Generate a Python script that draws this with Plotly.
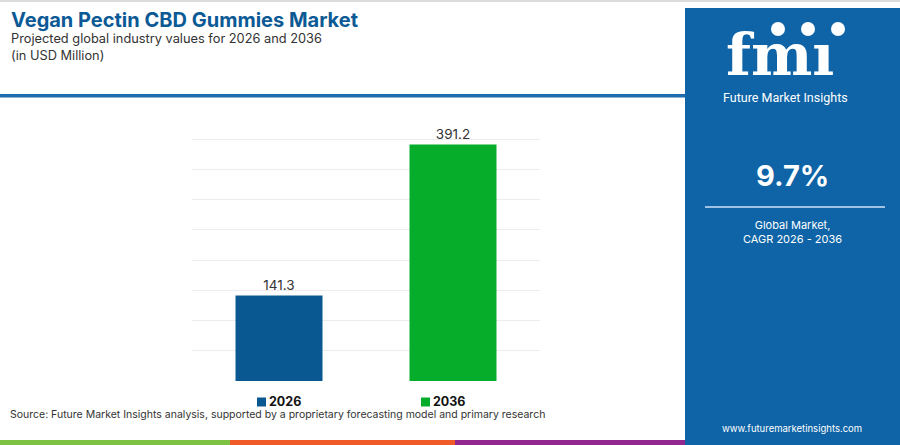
import plotly.graph_objects as go

# chart data
years = ['2026', '2036']
values = [141.3, 391.2]
bar_colors = ['#0a5891', '#06ad2a']
cagr = '9.7%'

title = 'Vegan Pectin CBD Gummies Market'
subtitle = 'Projected global industry values for 2026 and 2036'
unit = '(in USD Million)'
source = 'Source: Future Market Insights analysis, supported by a proprietary forecasting model and primary research'

W, H = 900, 445
# plot area in pixels
L, R, T, B = 192, 540, 109, 381


def px(x):
    return (x - L) / (R - L)


def py(y):
    return (B - y) / (B - T)


fig = go.Figure()
fig.add_trace(go.Bar(
    x=years, y=values, width=0.5,
    marker=dict(color=bar_colors, line=dict(width=0)),
    text=[f'{v:.1f}' for v in values], textposition='outside',
    textfont=dict(family='Inter', size=13.5, color='#333333'),
    cliponaxis=False, showlegend=False,
))

shapes = []
ann = []

# frame lines
shapes.append(dict(type='rect', xref='paper', yref='paper', x0=px(0), x1=px(900), y0=py(0), y1=py(2),
                   fillcolor='#dcdcdc', line=dict(width=0), layer='below'))
shapes.append(dict(type='rect', xref='paper', yref='paper', x0=px(0), x1=px(685), y0=py(94), y1=py(97.5),
                   fillcolor='#1f6cae', line=dict(width=0), layer='below'))
# bottom stripes
for x0, x1, c in [(0, 230, '#7dc242'), (230, 455, '#f05a28'), (455, 685, '#92278f')]:
    shapes.append(dict(type='rect', xref='paper', yref='paper', x0=px(x0), x1=px(x1), y0=py(440), y1=py(445),
                       fillcolor=c, line=dict(width=0), layer='below'))
# right panel
shapes.append(dict(type='rect', xref='paper', yref='paper', x0=px(685), x1=px(900), y0=py(8), y1=py(445),
                   fillcolor='#0e64a6', line=dict(width=0), layer='below'))

# titles
ann.append(dict(text=f'<b>{title}</b>', x=px(9), y=py(20), xanchor='left', yanchor='middle',
                font=dict(family='Inter', size=20, color='#0c5a95')))
ann.append(dict(text=subtitle, x=px(9), y=py(38), xanchor='left', yanchor='middle',
                font=dict(family='Inter', size=12.8, color='#333333')))
ann.append(dict(text=unit, x=px(9), y=py(55), xanchor='left', yanchor='middle',
                font=dict(family='Inter', size=12.8, color='#333333')))
ann.append(dict(text=source, x=px(9), y=py(414), xanchor='left', yanchor='middle', borderpad=0,
                font=dict(family='Inter', size=10.5, color='#333333')))

# legend
for i, (yr, c) in enumerate(zip(years, bar_colors)):
    lx = 257 + i * 164
    shapes.append(dict(type='rect', xref='paper', yref='paper', x0=px(lx), x1=px(lx + 9), y0=py(397.5), y1=py(406.5),
                       fillcolor=c, line=dict(width=0)))
    ann.append(dict(text=f'<b>{yr}</b>', x=px(lx + 11), y=py(401.5), xanchor='left', yanchor='middle',
                    borderpad=0, font=dict(family='Inter', size=12.5, color='#111111')))

# logo
ann.append(dict(text='<b>fmı</b>', x=px(780), y=py(55), xanchor='center', yanchor='middle', borderpad=0,
                font=dict(family='DejaVu Serif', size=58, color='white')))
for yy in range(40, 86, 4):
    shapes.append(dict(type='line', xref='paper', yref='paper', x0=px(715), x1=px(850), y0=py(yy), y1=py(yy),
                       line=dict(color='#0e64a6', width=1.2)))
for cx in [778, 808, 838]:
    shapes.append(dict(type='circle', xref='paper', yref='paper', x0=px(cx - 7), x1=px(cx + 7),
                       y0=py(22), y1=py(36), fillcolor='white', line=dict(width=0)))
ann.append(dict(text='Future Market Insights', x=px(785), y=py(98), xanchor='center', yanchor='middle',
                borderpad=0, font=dict(family='Roboto', size=12.5, color='white')))

# CAGR block
ann.append(dict(text=f'<b>{cagr}</b>', x=px(792), y=py(175), xanchor='center', yanchor='middle',
                font=dict(family='Inter', size=29, color='white')))
shapes.append(dict(type='line', xref='paper', yref='paper', x0=px(705), x1=px(885), y0=py(207), y1=py(207),
                   line=dict(color='#9fc2e4', width=2)))
ann.append(dict(text='Global Market,<br>CAGR 2026 - 2036', x=px(792), y=py(232), xanchor='center',
                yanchor='middle', font=dict(family='Inter', size=11, color='white')))
ann.append(dict(text='www.futuremarketinsights.com', x=px(792), y=py(428), xanchor='center', yanchor='middle',
                font=dict(family='Inter', size=9.5, color='white')))

for a in ann:
    a.update(xref='paper', yref='paper', showarrow=False)

fig.update_layout(
    width=W, height=H,
    margin=dict(l=L, r=W - R, t=T, b=H - B, pad=0),
    paper_bgcolor='white', plot_bgcolor='white',
    shapes=shapes, annotations=ann,
    xaxis=dict(showticklabels=False, showgrid=False, zeroline=False, fixedrange=True),
    yaxis=dict(range=[0, 450], dtick=50, showticklabels=False, showgrid=True, gridcolor='#ececec',
               gridwidth=1, zeroline=False, fixedrange=True),
    showlegend=False,
)

# page body has a default margin, drop it so the figure fills the window
fig.write_html('out.html', config={'displayModeBar': False},
               post_script="document.body.style.margin='0';document.body.style.overflow='hidden';")
